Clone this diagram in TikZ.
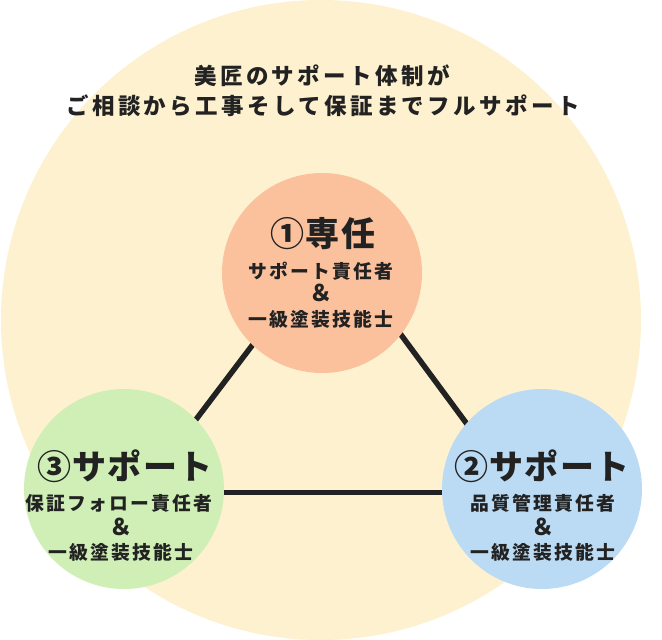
\documentclass[tikz,border=0pt]{standalone}
\usepackage{fontspec}
\setmainfont{Noto Sans CJK JP}
\newfontfamily\jpttl[LetterSpace=15]{Noto Sans CJK JP}
\newfontfamily\jpsub[LetterSpace=12]{Noto Sans CJK JP}
\newfontfamily\jphead[LetterSpace=4]{Noto Sans CJK JP}
\definecolor{cream}{HTML}{FEF1CF}
\definecolor{salmon}{HTML}{FBC19D}
\definecolor{mint}{HTML}{CFEFB6}
\definecolor{sky}{HTML}{BBDBF4}
\definecolor{ink}{HTML}{222222}
\pgfdeclarelayer{bg}
\pgfsetlayers{bg,main}
\tikzset{
  bubble/.style={circle, minimum size=200pt, inner sep=0pt, draw=none},
  ttl/.style={font=\jpttl\bfseries\fontsize{22.5}{26}\selectfont, text=ink, inner sep=0pt},
  head/.style={font=\jphead\bfseries\fontsize{34}{38}\selectfont, text=ink, inner sep=0pt},
  sub/.style={font=\jpsub\bfseries\fontsize{18.8}{22}\selectfont, text=ink, inner sep=0pt},
  amp/.style={font=\jpsub\bfseries\fontsize{23}{24}\selectfont, text=ink, inner sep=0pt},
  link/.style={draw=ink, line width=5.5pt, shorten <=-4pt, shorten >=-4pt}
}
\begin{document}
\begin{tikzpicture}[x=1pt,y=-1pt]
\useasboundingbox (0,0) rectangle (662,640);
\node[ttl] (t1) at (322,75.5) {美匠のサポート体制が};
\node[ttl] (t2) at (323,106) {ご相談から工事そして保証までフルサポート};
% circles
\node[bubble, fill=salmon] (c1) at (322,273) {};
\node[bubble, fill=sky] (c2) at (542,489) {};
\node[bubble, fill=mint] (c3) at (124,489) {};
\begin{pgfonlayer}{bg}
  \fill[cream] (321,320) circle [radius=320];
  \draw[link] (c1.226) -- (c3.44);
  \draw[link] (c1.-38.5) -- (c2.139.4);
  \draw[link] (c3.-2.9) -- (c2.182.9);
\end{pgfonlayer}
% texts circle 1
\node[head] (h1) at (323,234) {①専任};
\node[sub] (s1a) at (321,271) {サポート責任者};
\node[amp] (s1b) at (321,293) {＆};
\node[sub] (s1c) at (321,319.5) {一級塗装技能士};
% circle 2
\node[head] (h2) at (542,466) {②サポート};
\node[sub] (s2a) at (543,503.5) {品質管理責任者};
\node[amp] (s2b) at (543,527) {＆};
\node[sub] (s2c) at (543,552) {一級塗装技能士};
% circle 3
\node[head] (h3) at (125,466) {③サポート};
\node[sub] (s3a) at (119,503) {保証フォロー責任者};
\node[amp] (s3b) at (121,527) {＆};
\node[sub] (s3c) at (121,552) {一級塗装技能士};
\end{tikzpicture}
\end{document}
